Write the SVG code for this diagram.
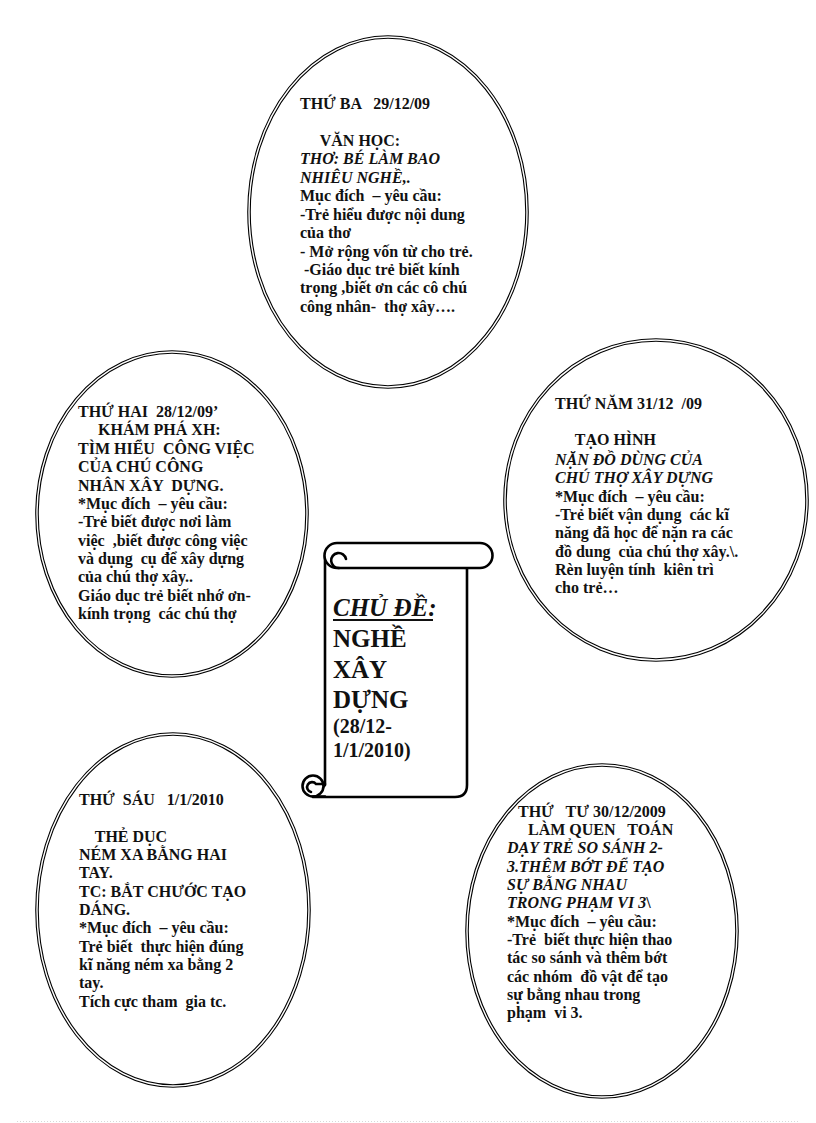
<svg xmlns="http://www.w3.org/2000/svg" width="816" height="1123" viewBox="0 0 816 1123" xml:space="preserve">
<style>
.oo{fill:#fff;stroke:#000;stroke-width:3.6}
.oi{fill:none;stroke:#fff;stroke-width:1.4}
.t{font-family:"Liberation Serif","Times New Roman",serif;font-weight:bold;font-size:16px;fill:#111;white-space:pre}
.i{font-style:italic}
.sc{fill:#fff;stroke:#000;stroke-width:2.6;stroke-linejoin:round;stroke-linecap:round}
.scl{fill:none;stroke:#000;stroke-width:2.6;stroke-linecap:round}
.big{font-family:"Liberation Serif","Times New Roman",serif;font-weight:bold;font-size:25px;fill:#111}
.mid{font-family:"Liberation Serif","Times New Roman",serif;font-weight:bold;font-size:20px;fill:#111}
</style>
<rect width="816" height="1123" fill="#fff"/>

<g id="node-thu-ba">
<ellipse class="oo" cx="388" cy="212" rx="139" ry="175"/>
<ellipse class="oi" cx="388" cy="212" rx="139" ry="175"/>
<text class="t" x="300" y="109">THỨ BA   29/12/09</text>
<text class="t" x="300" y="146">     VĂN HỌC:</text>
<text class="t i" x="300" y="164">THƠ: BÉ LÀM BAO</text>
<text class="t i" x="300" y="183">NHIÊU NGHỀ,.</text>
<text class="t" x="300" y="201">Mục đích  – yêu cầu:</text>
<text class="t" x="300" y="220">-Trẻ hiểu được nội dung</text>
<text class="t" x="300" y="238">của thơ</text>
<text class="t" x="300" y="257">- Mở rộng vốn từ cho trẻ.</text>
<text class="t" x="300" y="275"> -Giáo dục trẻ biết kính</text>
<text class="t" x="300" y="293">trọng ,biết ơn các cô chú</text>
<text class="t" x="300" y="312">công nhân-  thợ xây….</text>
</g>

<g id="node-thu-hai">
<ellipse class="oo" cx="172" cy="514" rx="135" ry="162"/>
<ellipse class="oi" cx="172" cy="514" rx="135" ry="162"/>
<text class="t" x="78" y="417">THỨ HAI  28/12/09’</text>
<text class="t" x="78" y="435">     KHÁM PHÁ XH:</text>
<text class="t" x="78" y="454">TÌM HIỂU  CÔNG VIỆC</text>
<text class="t" x="78" y="472">CỦA CHÚ CÔNG</text>
<text class="t" x="78" y="491">NHÂN XÂY  DỰNG.</text>
<text class="t" x="78" y="509">*Mục đích  – yêu cầu:</text>
<text class="t" x="78" y="527">-Trẻ biết được nơi làm</text>
<text class="t" x="78" y="546">việc  ,biết được công việc</text>
<text class="t" x="78" y="564">và dụng  cụ để xây dựng</text>
<text class="t" x="78" y="582">của chú thợ xây..</text>
<text class="t" x="78" y="601">Giáo dục trẻ biết nhớ ơn-</text>
<text class="t" x="78" y="619">kính trọng  các chú thợ</text>
</g>

<g id="node-thu-nam">
<ellipse class="oo" cx="656" cy="500" rx="151" ry="160"/>
<ellipse class="oi" cx="656" cy="500" rx="151" ry="160"/>
<text class="t" x="555" y="409">THỨ NĂM 31/12  /09</text>
<text class="t" x="555" y="445">     TẠO HÌNH</text>
<text class="t i" x="555" y="465">NẶN ĐỒ DÙNG CỦA</text>
<text class="t i" x="555" y="483">CHÚ THỢ XÂY DỰNG</text>
<text class="t" x="555" y="502">*Mục đích  – yêu cầu:</text>
<text class="t" x="555" y="520">-Trẻ biết vận dụng  các kĩ</text>
<text class="t" x="555" y="538">năng đã học để nặn ra các</text>
<text class="t" x="555" y="557">đồ dung  của chú thợ xây.\.</text>
<text class="t" x="555" y="575">Rèn luyện tính  kiên trì</text>
<text class="t" x="555" y="593">cho trẻ…</text>
</g>

<g id="node-thu-sau">
<ellipse class="oo" cx="173" cy="910" rx="136" ry="176"/>
<ellipse class="oi" cx="173" cy="910" rx="136" ry="176"/>
<text class="t" x="79" y="805">THỨ  SÁU   1/1/2010</text>
<text class="t" x="79" y="842">    THẺ DỤC</text>
<text class="t" x="79" y="860">NÉM XA BẰNG HAI</text>
<text class="t" x="79" y="878">TAY.</text>
<text class="t" x="79" y="897">TC: BẮT CHƯỚC TẠO</text>
<text class="t" x="79" y="915">DÁNG.</text>
<text class="t" x="79" y="933">*Mục đích  – yêu cầu:</text>
<text class="t" x="79" y="952">Trẻ biết  thực hiện đúng</text>
<text class="t" x="79" y="970">kĩ năng ném xa bằng 2</text>
<text class="t" x="79" y="988">tay.</text>
<text class="t" x="79" y="1007">Tích cực tham  gia tc.</text>
</g>

<g id="node-thu-tu">
<ellipse class="oo" cx="602" cy="931" rx="135" ry="166"/>
<ellipse class="oi" cx="602" cy="931" rx="135" ry="166"/>
<text class="t" x="518" y="817">THỨ   TƯ 30/12/2009</text>
<text class="t" x="528" y="835">LÀM QUEN   TOÁN</text>
<text class="t i" x="507" y="853">DẠY TRẺ SO SÁNH 2-</text>
<text class="t i" x="507" y="872">3.THÊM BỚT ĐỂ TẠO</text>
<text class="t i" x="507" y="890">SỰ BẰNG NHAU</text>
<text class="t" x="507" y="908"><tspan class="i">TRONG PHẠM VI 3</tspan>\</text>
<text class="t" x="507" y="927">*Mục đích  – yêu cầu:</text>
<text class="t" x="507" y="945">-Trẻ  biết thực hiện thao</text>
<text class="t" x="507" y="963">tác so sánh và thêm bớt</text>
<text class="t" x="507" y="982">các nhóm  đồ vật để tạo</text>
<text class="t" x="507" y="1000">sự bằng nhau trong</text>
<text class="t" x="507" y="1018">phạm  vi 3.</text>
</g>

<g id="node-chu-de">
<path class="sc" d="M325,556 L325,785 L313,797 L455,797 Q467,797 467,785 L467,568 Z"/>
<path class="sc" d="M337,543 L480,543 A12.5,12.5 0 0 1 480,568 L337,568 A12.5,12.5 0 0 1 337,543 Z"/>
<path class="scl" d="M339,568 A7.5,7.5 0 1 1 346,559"/>
<circle class="sc" cx="313" cy="786" r="10.5"/>
<path class="scl" d="M311,792 A5,5 0 1 1 316,784 L325,784"/>
<line class="scl" x1="313" y1="796.5" x2="325" y2="796.5"/>
<text class="big i" x="333" y="616" font-size="24">CHỦ ĐỀ:</text>
<line x1="333" y1="620" x2="433" y2="620" stroke="#111" stroke-width="2"/>
<text class="big" x="333" y="647">NGHỀ</text>
<text class="big" x="333" y="678">XÂY</text>
<text class="big" x="333" y="708">DỰNG</text>
<text class="mid" x="333" y="733">(28/12-</text>
<text class="mid" x="333" y="757">1/1/2010)</text>
</g>

<g id="connectors"></g>

<line x1="17" y1="1121.5" x2="800" y2="1121.5" stroke="#d8d8d8" stroke-width="1" stroke-dasharray="1,2"/>
</svg>
